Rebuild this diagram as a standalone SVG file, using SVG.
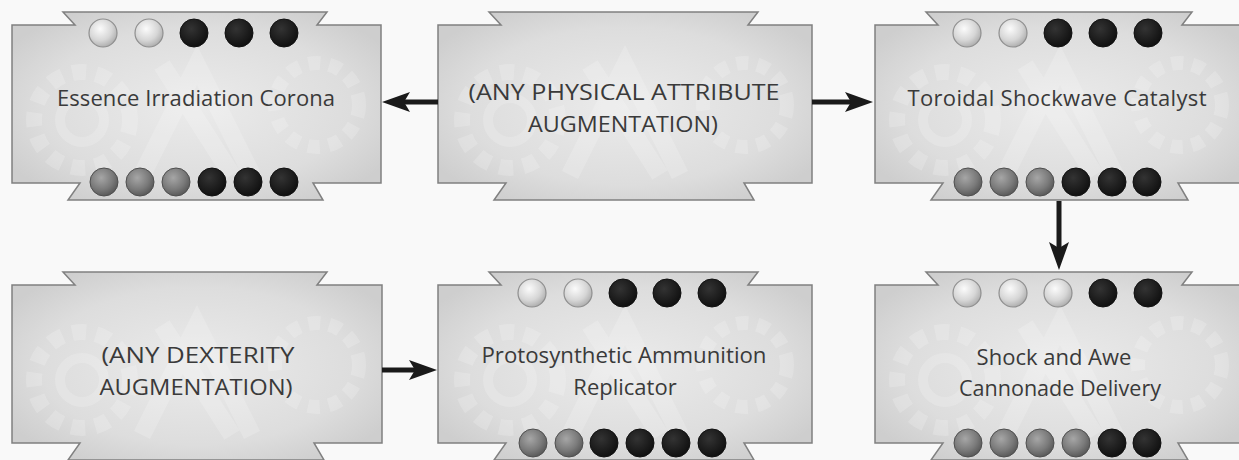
<svg xmlns="http://www.w3.org/2000/svg" xmlns:xlink="http://www.w3.org/1999/xlink" width="1239" height="460" viewBox="0 0 1239 460">
<style>
.card{fill:url(#cardFill);stroke:#808080;stroke-width:1.5;stroke-linejoin:miter}
.lbl{font-family:"Open Sans","Liberation Sans",sans-serif;font-size:22px;fill:#3a3a3a;text-anchor:middle}
.lt{fill:url(#gLight);stroke:#8f8f8f;stroke-width:1.2}
.md{fill:url(#gMed);stroke:#4f4f4f;stroke-width:1}
.dk{fill:url(#gDark);stroke:#111;stroke-width:1}
.conn{stroke:#1a1a1a;stroke-width:5;fill:none;marker-end:url(#head)}
.gear{fill:none;stroke:#ffffff;stroke-opacity:0.18}
</style>
<defs>
<radialGradient id="cardFill" cx="0.5" cy="0.5" r="0.6">
<stop offset="0" stop-color="#ebebeb"/>
<stop offset="0.7" stop-color="#dddddd"/>
<stop offset="1" stop-color="#cecece"/>
</radialGradient>
<radialGradient id="gLight" cx="0.4" cy="0.35" r="0.7">
<stop offset="0" stop-color="#fbfbfb"/>
<stop offset="0.6" stop-color="#d6d6d6"/>
<stop offset="1" stop-color="#a9a9a9"/>
</radialGradient>
<radialGradient id="gMed" cx="0.4" cy="0.35" r="0.7">
<stop offset="0" stop-color="#a6a6a6"/>
<stop offset="0.6" stop-color="#7a7a7a"/>
<stop offset="1" stop-color="#545454"/>
</radialGradient>
<radialGradient id="gDark" cx="0.4" cy="0.35" r="0.7">
<stop offset="0" stop-color="#333333"/>
<stop offset="1" stop-color="#0e0e0e"/>
</radialGradient>
<marker id="head" markerUnits="userSpaceOnUse" markerWidth="28" markerHeight="20" viewBox="0 0 28 20" refX="6" refY="10" orient="auto">
<path d="M0,0 L28,10 L0,20 L6,10 Z" fill="#1a1a1a"/>
</marker>
<g id="tex">
<circle class="gear" cx="70" cy="95" r="48" stroke-width="16" stroke-dasharray="14 10"/>
<circle class="gear" cx="70" cy="95" r="22" stroke-width="10"/>
<circle class="gear" cx="305" cy="80" r="42" stroke-width="14" stroke-dasharray="12 9"/>
<path class="gear" d="M130,150 L185,40 L240,150 M150,40 L220,150" stroke-width="18"/>
</g>
</defs>
<rect x="0" y="0" width="1239" height="460" fill="#f9f9f9"/>

<g id="node-essence">
<path class="card" d="M12,25 H75 L63,12 H327 L317,25 H381 V183 H313 L323,200 H68 L80,183 H12 Z"/>
<use xlink:href="#tex" href="#tex" x="12" y="25"/>
<circle class="lt" cx="103" cy="33" r="14"/><circle class="lt" cx="149" cy="33" r="14"/><circle class="dk" cx="194" cy="33" r="14"/><circle class="dk" cx="239" cy="33" r="14"/><circle class="dk" cx="284" cy="33" r="14"/>
<circle class="md" cx="104" cy="182" r="14"/><circle class="md" cx="140" cy="182" r="14"/><circle class="md" cx="176" cy="182" r="14"/><circle class="dk" cx="212" cy="182" r="14"/><circle class="dk" cx="248" cy="182" r="14"/><circle class="dk" cx="284" cy="182" r="14"/>
<text class="lbl" x="196" y="106" textLength="278" lengthAdjust="spacing">Essence Irradiation Corona</text>
</g>

<g id="node-physical">
<path class="card" d="M438,25 H501 L489,12 H758 L748,25 H812 V183 H744 L754,200 H494 L506,183 H438 Z"/>
<use xlink:href="#tex" href="#tex" x="440" y="25"/>
<text class="lbl" x="624" y="100" textLength="311" lengthAdjust="spacingAndGlyphs">(ANY PHYSICAL ATTRIBUTE</text>
<text class="lbl" x="623" y="132" textLength="190" lengthAdjust="spacingAndGlyphs">AUGMENTATION)</text>
</g>

<g id="node-toroidal">
<path class="card" d="M875,25 H938 L926,12 H1192 L1182,25 H1246 V183 H1178 L1188,200 H931 L943,183 H875 Z"/>
<use xlink:href="#tex" href="#tex" x="875" y="25"/>
<circle class="lt" cx="967" cy="33" r="14"/><circle class="lt" cx="1013" cy="33" r="14"/><circle class="dk" cx="1058" cy="33" r="14"/><circle class="dk" cx="1103" cy="33" r="14"/><circle class="dk" cx="1148" cy="33" r="14"/>
<circle class="md" cx="968" cy="182" r="14"/><circle class="md" cx="1004" cy="182" r="14"/><circle class="md" cx="1040" cy="182" r="14"/><circle class="dk" cx="1076" cy="182" r="14"/><circle class="dk" cx="1112" cy="182" r="14"/><circle class="dk" cx="1147" cy="182" r="14"/>
<text class="lbl" x="1057" y="106" textLength="299" lengthAdjust="spacing">Toroidal Shockwave Catalyst</text>
</g>

<g id="node-dexterity">
<path class="card" d="M12,285 H75 L63,272 H327 L317,285 H382 V443 H314 L324,460 H68 L80,443 H12 Z"/>
<use xlink:href="#tex" href="#tex" x="12" y="285"/>
<text class="lbl" x="198" y="363" textLength="193" lengthAdjust="spacingAndGlyphs">(ANY DEXTERITY</text>
<text class="lbl" x="196" y="395" textLength="193" lengthAdjust="spacingAndGlyphs">AUGMENTATION)</text>
</g>

<g id="node-protosynthetic">
<path class="card" d="M438,285 H501 L489,272 H758 L748,285 H812 V443 H744 L754,460 H494 L506,443 H438 Z"/>
<use xlink:href="#tex" href="#tex" x="440" y="285"/>
<circle class="lt" cx="532" cy="293" r="14"/><circle class="lt" cx="578" cy="293" r="14"/><circle class="dk" cx="623" cy="293" r="14"/><circle class="dk" cx="667" cy="293" r="14"/><circle class="dk" cx="712" cy="293" r="14"/>
<circle class="md" cx="533" cy="443" r="14"/><circle class="md" cx="569" cy="443" r="14"/><circle class="dk" cx="604" cy="443" r="14"/><circle class="dk" cx="640" cy="443" r="14"/><circle class="dk" cx="676" cy="443" r="14"/><circle class="dk" cx="712" cy="443" r="14"/>
<text class="lbl" x="624" y="363" textLength="285" lengthAdjust="spacingAndGlyphs">Protosynthetic Ammunition</text>
<text class="lbl" x="625" y="395">Replicator</text>
</g>

<g id="node-shockawe">
<path class="card" d="M875,285 H938 L926,272 H1192 L1182,285 H1246 V443 H1178 L1188,460 H931 L943,443 H875 Z"/>
<use xlink:href="#tex" href="#tex" x="875" y="285"/>
<circle class="lt" cx="967" cy="293" r="14"/><circle class="lt" cx="1013" cy="293" r="14"/><circle class="lt" cx="1058" cy="293" r="14"/><circle class="dk" cx="1103" cy="293" r="14"/><circle class="dk" cx="1148" cy="293" r="14"/>
<circle class="md" cx="968" cy="443" r="14"/><circle class="md" cx="1004" cy="443" r="14"/><circle class="md" cx="1040" cy="443" r="14"/><circle class="md" cx="1076" cy="443" r="14"/><circle class="dk" cx="1112" cy="443" r="14"/><circle class="dk" cx="1147" cy="443" r="14"/>
<text class="lbl" x="1054" y="365">Shock and Awe</text>
<text class="lbl" x="1060" y="396" textLength="202" lengthAdjust="spacingAndGlyphs">Cannonade Delivery</text>
</g>

<g id="connectors">
<line class="conn" x1="438" y1="102" x2="404" y2="102"/>
<line class="conn" x1="812" y1="102" x2="851" y2="102"/>
<line class="conn" x1="1059" y1="201" x2="1059" y2="248"/>
<line class="conn" x1="382" y1="370" x2="415" y2="370"/>
</g>
</svg>
